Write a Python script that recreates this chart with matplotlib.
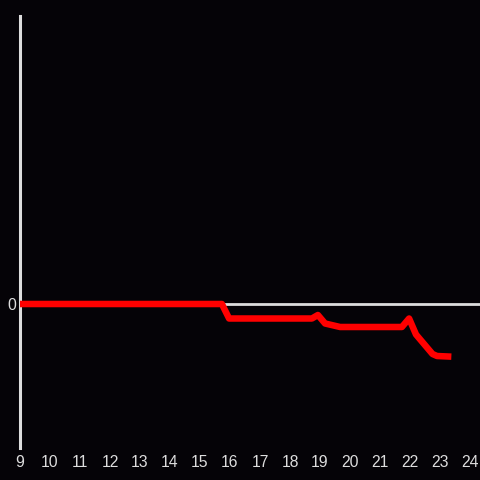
import matplotlib
matplotlib.use("Agg")
import matplotlib.pyplot as plt

# data
hours = [9.0, 15.73, 15.97, 18.73, 18.93, 19.17, 19.67, 21.73, 21.97, 22.2, 22.75, 22.9, 23.27]
values = [0.0, 0.0, -1.45, -1.45, -1.1, -1.95, -2.3, -2.3, -1.45, -3.05, -5.0, -5.2, -5.25]
xticks = list(range(9, 25))
yticks = [0]

bg = "#050307"
fg = "#dddddd"

fig = plt.figure(figsize=(4.8, 4.8), dpi=100, facecolor=bg)
ax = fig.add_axes([20/480, 32/480, 460/480, 432/480], facecolor=bg)

ax.axhline(0, color=fg, lw=2, zorder=1)
ax.plot(hours, values, color="#ff0000", lw=4.7, solid_joinstyle="round", zorder=3)

ax.set_xlim(9, 9 + 460/30)
ax.set_ylim(-14.4, 28.8)

ax.set_xticks(xticks)
ax.set_xticklabels([str(t) for t in xticks])
ax.set_yticks(yticks)
ax.set_yticklabels([str(t) for t in yticks])
ax.tick_params(axis="both", length=0, colors=fg, labelsize=11.3)
ax.tick_params(axis="x", pad=5)
ax.tick_params(axis="y", pad=3)
for lab in ax.get_xticklabels() + ax.get_yticklabels():
    lab.set_family(["Liberation Sans", "DejaVu Sans"])

for s in ["top", "right", "bottom"]:
    ax.spines[s].set_visible(False)
ax.spines["left"].set_color(fg)
ax.spines["left"].set_linewidth(2.2)

fig.savefig("out.png", dpi=100, facecolor=bg)
